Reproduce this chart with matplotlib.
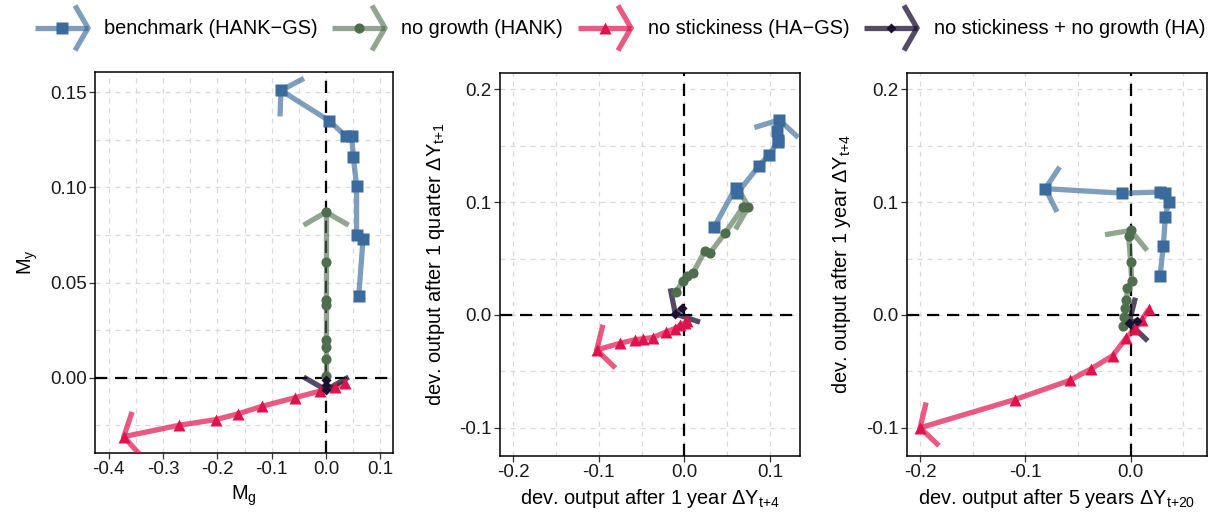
import numpy as np
import matplotlib
matplotlib.use("Agg")
import matplotlib.pyplot as plt
from matplotlib.ticker import MultipleLocator, FormatStrFormatter

plt.rcParams['font.family'] = ['Liberation Sans', 'DejaVu Sans']
plt.rcParams['mathtext.fontset'] = 'custom'
plt.rcParams['mathtext.rm'] = 'Liberation Sans'
plt.rcParams['mathtext.it'] = 'Liberation Sans:italic'
plt.rcParams['mathtext.default'] = 'regular'

# series names
labels = ['benchmark (HANK\u2212GS)', 'no growth (HANK)',
          'no stickiness (HA\u2212GS)', 'no stickiness + no growth (HA)']

# panel 1: M_g vs M_y
p1_bench_x = [0.060, 0.068, 0.056, 0.056, 0.050, 0.047, 0.036, 0.006, -0.083]
p1_bench_y = [0.043, 0.073, 0.075, 0.101, 0.116, 0.127, 0.127, 0.135, 0.151]
p1_grow_x = [0.0, 0.0, 0.0, 0.0, 0.0, 0.0, 0.0, 0.0]
p1_grow_y = [0.001, 0.010, 0.016, 0.020, 0.038, 0.041, 0.061, 0.087]
p1_stick_x = [0.035, 0.017, -0.011, -0.057, -0.117, -0.162, -0.202, -0.270, -0.372]
p1_stick_y = [-0.003, -0.005, -0.007, -0.0105, -0.015, -0.019, -0.022, -0.025, -0.031]
p1_ha_x = [0.0, 0.0, 0.0]
p1_ha_y = [-0.001, -0.004, -0.0065]

# panel 2: dY(t+4) vs dY(t+1)
p2_bench_x = [0.035, 0.060, 0.062, 0.087, 0.099, 0.109, 0.109, 0.108, 0.111]
p2_bench_y = [0.078, 0.113, 0.108, 0.132, 0.142, 0.153, 0.155, 0.163, 0.173]
p2_grow_x = [-0.010, -0.002, 0.003, 0.010, 0.024, 0.030, 0.048, 0.069, 0.075]
p2_grow_y = [0.020, 0.030, 0.035, 0.037, 0.057, 0.055, 0.073, 0.096, 0.096]
p2_stick_x = [0.0035, 0.0008, -0.005, -0.011, -0.021, -0.037, -0.048, -0.058, -0.075, -0.1025]
p2_stick_y = [-0.005, -0.007, -0.009, -0.012, -0.015, -0.020, -0.021, -0.022, -0.025, -0.031]
p2_ha_x = [-0.003, -0.0105]
p2_ha_y = [0.006, 0.001]

# panel 3: dY(t+20) vs dY(t+4)
p3_bench_x = [0.028, 0.031, 0.033, 0.036, 0.033, 0.028, -0.008, -0.081]
p3_bench_y = [0.035, 0.061, 0.087, 0.100, 0.108, 0.109, 0.108, 0.112]
p3_grow_x = [-0.007, -0.006, -0.005, -0.004, -0.003, 0.001, 0.000, -0.002, 0.000]
p3_grow_y = [-0.010, -0.002, 0.006, 0.013, 0.024, 0.030, 0.047, 0.070, 0.075]
p3_stick_x = [0.017, 0.011, 0.004, -0.004, -0.017, -0.038, -0.058, -0.110, -0.200]
p3_stick_y = [0.005, -0.004, -0.012, -0.020, -0.036, -0.048, -0.058, -0.075, -0.100]
p3_ha_x = [0.006, -0.0015]
p3_ha_y = [-0.005, -0.007]

colors = ['#3b6a9c', '#4e6e4d', '#e0124c', '#1c1030']
markers = ['s', 'o', '^', 'D']
msizes = [8, 7.3, 8, 5.2]
line_alpha = [0.65, 0.62, 0.7, 0.75]
LW = 3.8

W, H = 1214, 520
fig = plt.figure(figsize=(W / 100, H / 100), dpi=100)


def box(l, t, r, b):
    return [l / W, 1 - b / H, (r - l) / W, (b - t) / H]


def arrow_head(ax, xs, ys, color, alpha, length=26, angle=60):
    tr = ax.transData
    tip = tr.transform((xs[-1], ys[-1]))
    prev = tr.transform((xs[-2], ys[-2]))
    d = prev - tip
    d = d / np.hypot(*d)
    pts = []
    for a in (angle, -angle):
        r = np.radians(a)
        rot = np.array([[np.cos(r), -np.sin(r)], [np.sin(r), np.cos(r)]])
        pts.append(tip + length * rot @ d)
    data = tr.inverted().transform(np.array([pts[0], tip, pts[1]]))
    ax.plot(data[:, 0], data[:, 1], color=color, alpha=alpha, lw=LW,
            solid_capstyle='butt', solid_joinstyle='miter', zorder=3)


panels = [
    dict(pos=box(95, 72, 393, 453), xlim=(-0.425, 0.123), ylim=(-0.0396, 0.1607),
         xmaj=0.1, ymaj=0.05, xfmt='%.1f', yfmt='%.2f',
         xlabel='M$_g$', ylabel='M$_y$', ypad=7,
         series=[(p1_bench_x, p1_bench_y), (p1_grow_x, p1_grow_y),
                 (p1_stick_x, p1_stick_y), (p1_ha_x, p1_ha_y)]),
    dict(pos=box(500, 72.7, 800, 456), xlim=(-0.2156, 0.1353), ylim=(-0.125, 0.2148),
         xmaj=0.1, ymaj=0.1, xfmt='%.1f', yfmt='%.1f',
         xlabel='dev. output after 1 year \u0394Y$_{t{+}4}$',
         ylabel='dev. output after 1 quarter \u0394Y$_{t{+}1}$', ypad=9,
         series=[(p2_bench_x, p2_bench_y), (p2_grow_x, p2_grow_y),
                 (p2_stick_x, p2_stick_y), (p2_ha_x, p2_ha_y)]),
    dict(pos=box(906.7, 72.7, 1207.3, 456), xlim=(-0.2127, 0.0728), ylim=(-0.125, 0.2148),
         xmaj=0.1, ymaj=0.1, xfmt='%.1f', yfmt='%.1f',
         xlabel='dev. output after 5 years \u0394Y$_{t{+}20}$',
         ylabel='dev. output after 1 year \u0394Y$_{t{+}4}$', ypad=9,
         series=[(p3_bench_x, p3_bench_y), (p3_grow_x, p3_grow_y),
                 (p3_stick_x, p3_stick_y), (p3_ha_x, p3_ha_y)]),
]

for p in panels:
    ax = fig.add_axes(p['pos'])
    ax.set_xlim(*p['xlim'])
    ax.set_ylim(*p['ylim'])
    ax.xaxis.set_major_locator(MultipleLocator(p['xmaj']))
    ax.xaxis.set_minor_locator(MultipleLocator(p['xmaj'] / 2))
    ax.yaxis.set_major_locator(MultipleLocator(p['ymaj']))
    ax.yaxis.set_minor_locator(MultipleLocator(p['ymaj'] / 2))
    ax.xaxis.set_major_formatter(FormatStrFormatter(p['xfmt']))
    ax.yaxis.set_major_formatter(FormatStrFormatter(p['yfmt']))
    ax.grid(which='both', color='#d9d9d9', lw=0.9, ls=(0, (4, 4)))
    ax.set_axisbelow(True)
    ax.tick_params(which='major', direction='out', length=4, width=0.9,
                   color='#333333', labelsize=13.5, labelcolor='#1a1a1a', pad=2)
    ax.tick_params(which='minor', length=0)
    for s in ax.spines.values():
        s.set_linewidth(1.1)
    ax.axhline(0, color='black', lw=1.6, ls=(0, (5.5, 3.5)), zorder=1.5)
    ax.axvline(0, color='black', lw=1.6, ls=(0, (5.5, 3.5)), zorder=1.5)
    ax.set_xlabel(p['xlabel'], fontsize=14.4, labelpad=4)
    ax.set_ylabel(p['ylabel'], fontsize=14.4, labelpad=p['ypad'])

    for i, (xs, ys) in enumerate(p['series']):
        ax.plot(xs, ys, color=colors[i], alpha=line_alpha[i], lw=LW,
                solid_capstyle='butt', zorder=3)
        arrow_head(ax, xs, ys, colors[i], line_alpha[i])
    for i, (xs, ys) in enumerate(p['series']):
        ax.plot(xs, ys, ls='none', marker=markers[i], ms=msizes[i],
                color=colors[i], mec='none', zorder=4)

# legend drawn in a strip at the top (pixel coordinates)
lg = fig.add_axes([0, 1 - 56 / H, 1, 56 / H])
lg.set_xlim(0, W)
lg.set_ylim(56, 0)
lg.axis('off')
key_tips = [88, 385, 631, 917]
text_x = [104, 401, 648, 934]
ky = 28
for i in range(4):
    x1 = key_tips[i]
    x0 = x1 - 53
    lg.plot([x0, x1], [ky, ky], color=colors[i], alpha=line_alpha[i], lw=LW,
            solid_capstyle='butt')
    lg.plot([x1 - 13, x1, x1 - 13], [ky - 22.5, ky, ky + 22.5], color=colors[i],
            alpha=line_alpha[i], lw=LW, solid_capstyle='butt',
            solid_joinstyle='miter', clip_on=False)
    lg.plot([(x0 + x1) / 2], [ky], ls='none', marker=markers[i], ms=msizes[i],
            color=colors[i], mec='none')
    lg.text(text_x[i], ky, labels[i], fontsize=14.4, va='center', ha='left')

fig.savefig('out.png', dpi=100)
